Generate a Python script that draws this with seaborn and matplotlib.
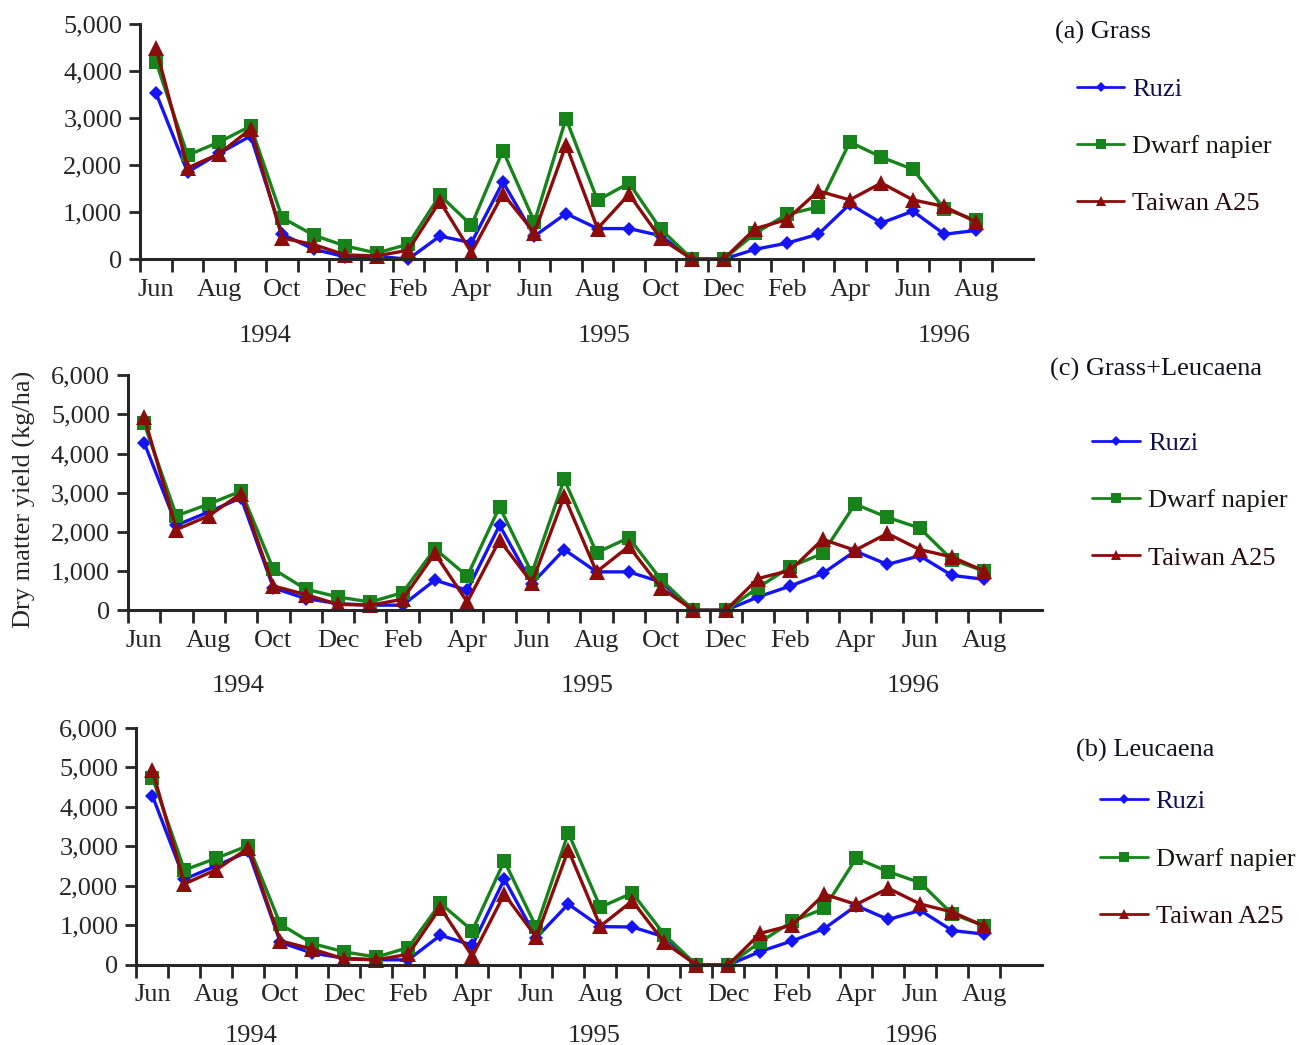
#!/usr/bin/env python3
# Monthly dry matter yield of three grass cultivars, three treatments

import numpy as np
import pandas as pd
import seaborn as sns
import matplotlib.pyplot as plt
import matplotlib.transforms as mtransforms
from matplotlib.lines import Line2D
from matplotlib.ticker import FuncFormatter

sns.set_style("ticks")
plt.rcParams['font.family'] = ['Liberation Serif', 'DejaVu Serif']


# Jun 1994 .. Aug 1996, one point per month
MONTHS = ["Jun94", "Jul94", "Aug94", "Sep94", "Oct94", "Nov94", "Dec94",
          "Jan95", "Feb95", "Mar95", "Apr95", "May95", "Jun95", "Jul95",
          "Aug95", "Sep95", "Oct95", "Nov95", "Dec95",
          "Jan96", "Feb96", "Mar96", "Apr96", "May96", "Jun96", "Jul96", "Aug96"]
TICK_LABELS = ["Jun", "Aug", "Oct", "Dec", "Feb", "Apr", "Jun",
               "Aug", "Oct", "Dec", "Feb", "Apr", "Jun", "Aug"]
YEARS = ["1994", "1995", "1996"]
CULTIVARS = ["Ruzi", "Dwarf napier", "Taiwan A25"]

# (a) Grass
GRASS_RUZI = [3530, 1850, 2250, 2620, 530, 210, 50, 60, 0, 490, 350, 1640,
              490, 970, 650, 650, 500, 0, 0, 210, 340, 530, 1170, 770, 1020, 530, 610]
GRASS_DWARF = [4190, 2210, 2490, 2830, 880, 510, 280, 130, 320, 1360, 720, 2310,
               790, 2990, 1250, 1620, 640, 0, 0, 550, 950, 1110, 2490, 2170, 1910, 1070, 830]
GRASS_TAIWAN = [4480, 1940, 2240, 2770, 450, 310, 90, 70, 190, 1230, 140, 1390,
                560, 2430, 650, 1380, 440, 0, 0, 650, 840, 1450, 1260, 1620, 1260, 1120, 790]

# (c) Grass+Leucaena
MIX_RUZI = [4280, 2170, 2510, 2870, 570, 300, 170, 130, 130, 770, 510, 2170,
            680, 1550, 980, 980, 720, 0, 0, 340, 620, 940, 1510, 1170, 1390, 890, 790]
MIX_DWARF = [4770, 2410, 2710, 3040, 1050, 540, 340, 210, 450, 1570, 870, 2640,
             950, 3340, 1470, 1850, 780, 0, 0, 580, 1110, 1450, 2710, 2370, 2100, 1290, 1000]
MIX_TAIWAN = [4940, 2060, 2410, 2980, 620, 400, 150, 130, 280, 1450, 210, 1790,
              700, 2910, 980, 1630, 570, 0, 0, 810, 1020, 1810, 1530, 1960, 1550, 1360, 1000]

# (b) Leucaena
LEU_RUZI = [4280, 2170, 2510, 2870, 570, 300, 170, 130, 130, 750, 500, 2170,
            690, 1540, 970, 960, 710, 0, 0, 340, 610, 920, 1500, 1150, 1380, 870, 780]
LEU_DWARF = [4740, 2400, 2700, 3020, 1030, 540, 330, 200, 440, 1560, 870, 2630,
             950, 3340, 1460, 1820, 770, 0, 0, 580, 1100, 1430, 2700, 2360, 2080, 1290, 990]
LEU_TAIWAN = [4930, 2050, 2410, 2960, 610, 400, 150, 130, 270, 1450, 220, 1790,
              700, 2910, 980, 1620, 570, 0, 0, 800, 1010, 1790, 1530, 1940, 1540, 1340, 980]

PALETTE = {"Ruzi": "#1414f5", "Dwarf napier": "#17841b", "Taiwan A25": "#8c0b0b"}
MARKERS = {"Ruzi": "D", "Dwarf napier": "s", "Taiwan A25": "^"}
MSIZE = {"Ruzi": 7.5, "Dwarf napier": 10, "Taiwan A25": 11}
TEXT_COLORS = {"Ruzi": "#101050", "Dwarf napier": "#101a10", "Taiwan A25": "#2a0a0a"}

PANELS = [
    dict(series=(GRASS_RUZI, GRASS_DWARF, GRASS_TAIWAN), title="(a) Grass",
         rect=[0.108, 0.752, 0.687, 0.225], ymax=5000,
         title_xy=(0.812, 0.969), legend_xy=(0.829, 0.926),
         year_x=(3.96, 14.7, 25.5), year_y=-0.325),
    dict(series=(MIX_RUZI, MIX_DWARF, MIX_TAIWAN), title="(c) Grass+Leucaena",
         rect=[0.0985, 0.416, 0.704, 0.225], ymax=6000,
         title_xy=(0.808, 0.646), legend_xy=(0.841, 0.587),
         year_x=(3.4, 14.2, 24.3), year_y=-0.32),
    dict(series=(LEU_RUZI, LEU_DWARF, LEU_TAIWAN), title="(b) Leucaena",
         rect=[0.105, 0.0766, 0.697, 0.227], ymax=6000,
         title_xy=(0.828, 0.282), legend_xy=(0.847, 0.244),
         year_x=(3.6, 14.3, 24.2), year_y=-0.30),
]

FS = 19


def panel(fig, cfg):
    ax = fig.add_axes(cfg["rect"])
    df = pd.DataFrame({
        "month": np.tile(np.arange(len(MONTHS)) + 0.5, len(CULTIVARS)),
        "yield": np.concatenate(cfg["series"]),
        "cultivar": np.repeat(CULTIVARS, len(MONTHS)),
    })
    for c in CULTIVARS:
        sns.lineplot(data=df[df["cultivar"] == c], x="month", y="yield",
                     color=PALETTE[c], marker=MARKERS[c], markersize=MSIZE[c],
                     markeredgewidth=0, linewidth=2.4, clip_on=False,
                     legend=False, ax=ax)

    ax.set_xlim(0, 28.3)
    ax.set_ylim(0, cfg["ymax"])
    ax.set_xticks(np.arange(len(MONTHS) + 1))
    ax.set_xticklabels([])
    ax.set_xticks(np.arange(0, len(MONTHS), 2) + 0.5, TICK_LABELS, minor=True)
    ax.tick_params(axis="x", which="major", length=9, width=2, direction="out")
    ax.tick_params(axis="x", which="minor", length=0, pad=14, labelsize=FS)
    ax.set_yticks(np.arange(0, cfg["ymax"] + 1, 1000))
    ax.yaxis.set_major_formatter(FuncFormatter(lambda v, p: "{:,.0f}".format(v)))
    ax.tick_params(axis="y", length=8, width=2, direction="out", pad=5, labelsize=FS)
    ax.set_xlabel("")
    ax.set_ylabel("")
    sns.despine(ax=ax)
    for s in ("left", "bottom"):
        ax.spines[s].set_linewidth(2.2)

    trans = mtransforms.blended_transform_factory(ax.transData, ax.transAxes)
    for yx, yr in zip(cfg["year_x"], YEARS):
        ax.text(yx, cfg["year_y"], yr, transform=trans, ha="center", va="center",
                fontsize=FS)

    fig.text(cfg["title_xy"][0], cfg["title_xy"][1], cfg["title"],
             ha="left", va="center", fontsize=FS, color="#111122")
    handles = [Line2D([], [], color=PALETTE[c], marker=MARKERS[c],
                      markersize=MSIZE[c] * 0.7, markeredgewidth=0, linewidth=2)
               for c in CULTIVARS]
    leg = ax.legend(handles, CULTIVARS, loc="upper left",
                    bbox_to_anchor=cfg["legend_xy"], bbox_transform=fig.transFigure,
                    frameon=False, fontsize=FS, handlelength=1.8,
                    handletextpad=0.3, labelspacing=1.28, borderpad=0,
                    borderaxespad=0)
    for t, c in zip(leg.get_texts(), CULTIVARS):
        t.set_color(TEXT_COLORS[c])
    return ax


fig = plt.figure(figsize=(12.99, 10.45), dpi=100)
for cfg in PANELS:
    panel(fig, cfg)

fig.text(0.019, 0.522, "Dry matter yield (kg/ha)", rotation=90,
         ha="center", va="center", fontsize=FS)

plt.savefig("out.png", dpi=100, facecolor="white")
